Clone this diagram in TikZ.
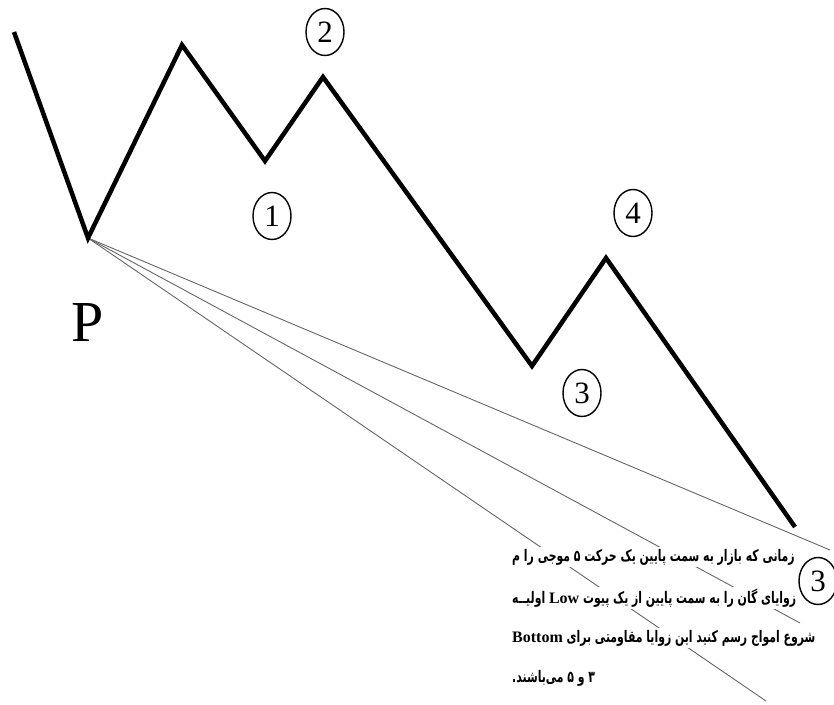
\documentclass[tikz,border=0pt]{standalone}
\usepackage{fontspec}
\setmainfont{Liberation Serif}
\newfontfamily\fa[Script=Arabic,FakeStretch=0.68]{DejaVu Sans}
\TeXXeTstate=1
\usetikzlibrary{shapes.geometric}
\newcommand\lat[1]{{\rmfamily\bfseries\beginL #1\endL}}
\begin{document}
\begin{tikzpicture}[x=1pt,y=-1pt]
\tikzset{
  wave/.style={line width=4.5pt, line join=miter, line cap=butt},
  fan/.style={line width=0.9pt, draw=black!60},
  num/.style={draw, line width=1.4pt, ellipse, minimum width=38pt, minimum height=47pt, inner sep=0pt, font=\fontsize{31}{31}\selectfont},
  plabel/.style={inner sep=0pt, font=\fontsize{58}{58}\selectfont},
  txt/.style={inner xsep=1pt, inner ysep=2pt, fill=white, anchor=west, font=\fa\bfseries\fontsize{16}{16}\selectfont}
}
\useasboundingbox (0,0) rectangle (834,704);
% wave points
\coordinate (w0) at (14,32);
\coordinate (P) at (88,238);
\coordinate (w2) at (182,45);
\coordinate (w3) at (265,161);
\coordinate (w4) at (323,77);
\coordinate (w5) at (532,366);
\coordinate (w6) at (606,258);
\coordinate (w7) at (795,527);
% fan end points
\coordinate (f1) at (830,550);
\coordinate (f2) at (800,623);
\coordinate (f3) at (766,701);

\draw[fan] (P) -- (f1);
\draw[fan] (P) -- (f2);
\draw[fan] (P) -- (f3);
\draw[wave] (w0) -- (P) -- (w2) -- (w3) -- (w4) -- (w5) -- (w6) -- (w7);

\node[txt] (t1) at (511,557) {\beginR زمانی که بازار به سمت پایین یک حرکت ۵ موجی را م\endR};
\node[txt] (t2) at (511,598) {\beginR زوایای گان را به سمت پایین از یک پیوت \lat{Low} اولیــه\endR};
\node[txt] (t3) at (511,638) {\beginR شروع امواج رسم کنید این زوایا مقاومتی برای \lat{Bottom}\endR};
\node[txt] (t4) at (511,678) {\beginR ۳ و ۵ می‌باشند.\endR};

\node[num] (n2) at (325,32) {2};
\node[num] (n1) at (272,216) {1};
\node[num] (n4) at (633,213) {4};
\node[num] (n3a) at (582,393) {3};
\node[num] (n3b) at (818,581) {3};

\node[plabel] (p) at (88,323) {P};
\end{tikzpicture}
\end{document}
